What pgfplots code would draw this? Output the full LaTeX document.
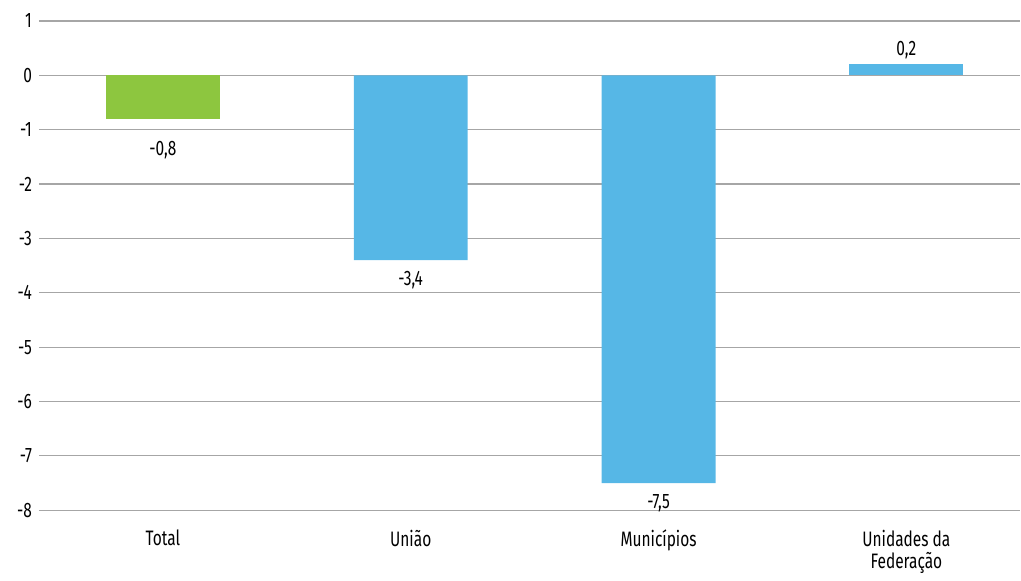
\documentclass[border=0pt]{standalone}
\usepackage{pgfplots}
\pgfplotsset{compat=1.18}
\usepackage{fontspec}
\setmainfont[FakeStretch=0.74]{Fira Sans}
\definecolor{cgreen}{HTML}{8DC63F}
\definecolor{cblue}{HTML}{56B7E6}
\definecolor{cgrid}{HTML}{A6A6A6}
\begin{document}
\begin{tikzpicture}
\begin{axis}[
  x=124bp, y=27.2bp,
  scale only axis,
  xmin=-0.5, xmax=3.46,
  ymin=-8, ymax=1,
  ytick={-8,-7,...,1},
  ymajorgrids,
  grid style={cgrid, line width=0.6pt},
  axis lines*=left,
  y axis line style={draw=none},
  x axis line style={cgrid, line width=0.6pt},
  ytick style={draw=none},
  xtick={0,1,2,3},
  xticklabels={Total, União, Municípios, {Unidades da\\Federação}},
  xticklabel style={align=center, font=\fontsize{10.5}{11.5}\selectfont, text=black, yshift=-2bp},
  major x tick style={draw=none},
  extra x ticks={-0.5,0.5,1.5,2.5},
  extra x tick labels={},
  extra x tick style={tick style={draw=cgrid, line width=0.5pt}, major tick length=4bp, grid=none, tick align=outside},
  yticklabel style={font=\fontsize{10.5}{11.5}\selectfont, text=black},
  /pgf/number format/assume math mode=true,
  xtick pos=bottom,
  ybar, bar width=57bp,
  nodes near coords,
  every node near coord/.append style={font=\fontsize{10.5}{11.5}\selectfont, text=black,
    /pgf/number format/fixed, /pgf/number format/fixed zerofill, /pgf/number format/precision=1,
    /pgf/number format/use comma, /pgf/number format/assume math mode=true},
  clip=false,
]
\addplot[fill=cgreen, draw=none, bar shift=0pt, every node near coord/.append style={inner sep=11bp}] coordinates {(0,-0.8)};
\addplot[fill=cblue, draw=none, bar shift=0pt, every node near coord/.append style={inner sep=5.5bp}] coordinates {(1,-3.4) (2,-7.5)};
\addplot[fill=cblue, draw=none, bar shift=0pt, every node near coord/.append style={inner sep=2.5bp}] coordinates {(3,0.2)};
\end{axis}
\useasboundingbox (current axis.south west) ++(-19.5bp,-31.5bp) rectangle ([yshift=10.5bp]current axis.north east);
\end{tikzpicture}
\end{document}
